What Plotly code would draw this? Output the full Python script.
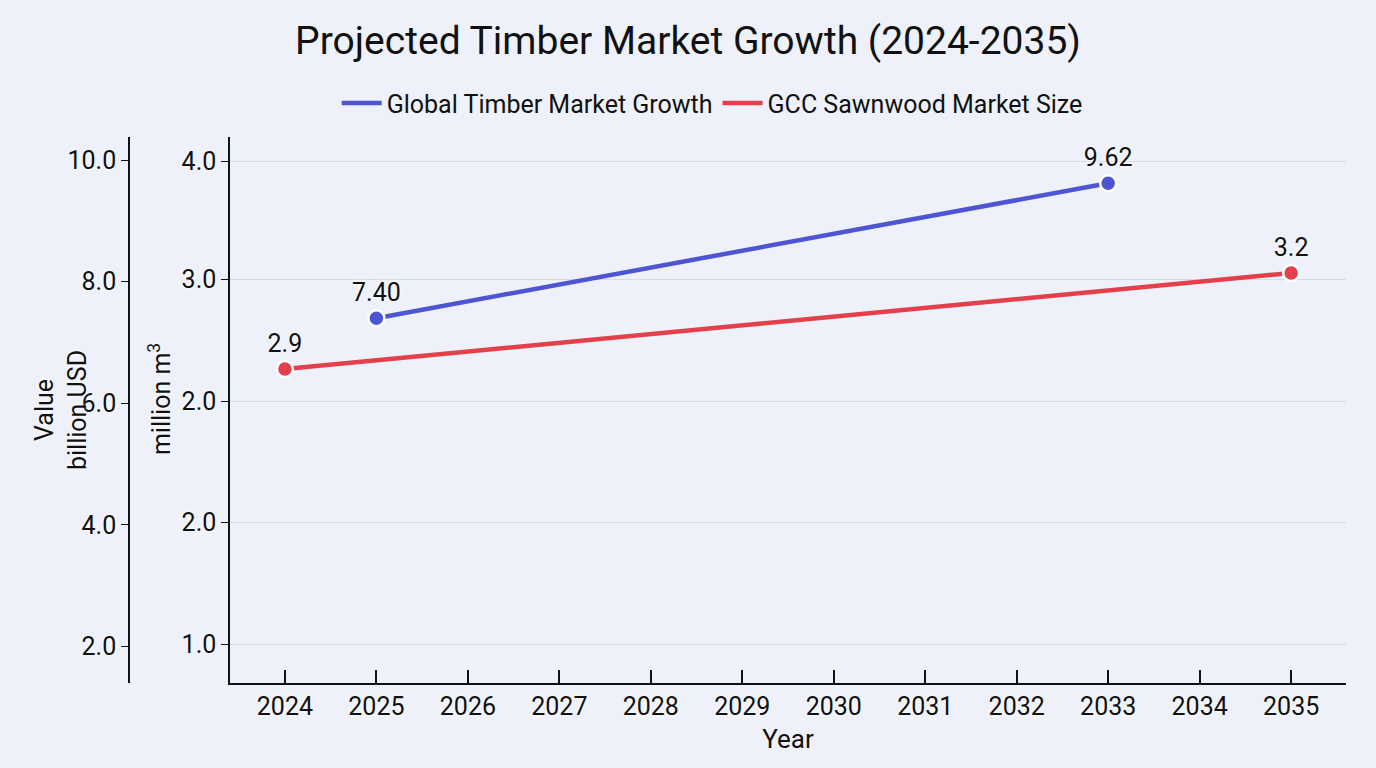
import plotly.graph_objects as go

# data
global_years = [2025, 2033]
global_values = [7.40, 9.62]          # billion USD
gcc_years = [2024, 2035]
gcc_values = [2.9, 3.2]               # million m3

# inner axis labels as printed in the reference
volume_tickvals = [2.04, 2.42, 2.80, 3.18, 3.55]
volume_ticktext = ['1.0', '2.0', '2.0', '3.0', '4.0']

BLUE = '#4f55d2'
RED = '#e3404b'
BG = '#eef1fa'
FONT = 'Roboto'
glow = '0px 0px 4px white'
labelfont = {'size': 25, 'color': '#111', 'family': FONT, 'shadow': glow}

fig = go.Figure()
series = [
    ('Global Timber Market Growth', global_years, global_values, BLUE, '%{y:.2f}', 'y'),
    ('GCC Sawnwood Market Size', gcc_years, gcc_values, RED, '%{y:.1f}', 'y2'),
]
for name, xs, ys, color, fmt, axis in series:
    # line (also the legend entry, line only)
    fig.add_trace(go.Scatter(
        x=xs, y=ys, name=name, legendgroup=name,
        mode='lines',
        line={'color': color, 'width': 4.5},
        yaxis=axis,
    ))
    # markers and value labels
    fig.add_trace(go.Scatter(
        x=xs, y=ys, name=name, legendgroup=name, showlegend=False,
        mode='markers+text',
        marker={'size': 16, 'color': color, 'line': {'color': 'white', 'width': 2.5}},
        texttemplate=fmt,
        textposition='top center',
        textfont=labelfont,
        yaxis=axis,
    ))

fig.update_layout(
    width=1376, height=768,
    paper_bgcolor=BG, plot_bgcolor=BG,
    font={'family': FONT, 'color': '#111'},
    margin={'l': 20, 'r': 30, 't': 137, 'b': 85},
    title={
        'text': 'Projected Timber Market Growth (2024-2035)',
        'x': 0.5, 'xref': 'container', 'xanchor': 'center',
        'y': 1 - 40 / 768, 'yanchor': 'middle',
        'font': {'size': 39, 'family': FONT, 'color': '#111'},
    },
    legend={
        'orientation': 'h',
        'x': 0.522, 'xanchor': 'center',
        'y': 1.062, 'yanchor': 'middle',
        'font': {'size': 25, 'family': FONT, 'color': '#111'},
        'bgcolor': 'rgba(0,0,0,0)',
        'itemwidth': 40,
    },
    showlegend=True,
    xaxis={
        'domain': [0.1584, 1],
        'range': [2023.4, 2035.6],
        'dtick': 1,
        'showgrid': False,
        'showline': True, 'linecolor': '#111', 'linewidth': 1.5,
        'ticks': 'inside', 'ticklen': 13, 'tickcolor': '#111', 'tickwidth': 1.5,
        'tickfont': labelfont,
        'title': {'text': 'Year', 'font': {'size': 26, 'family': FONT}, 'standoff': 10},
        'zeroline': False,
    },
    yaxis={
        'anchor': 'free', 'position': 0.0822, 'side': 'left',
        'range': [1.4, 10.38],
        'dtick': 2, 'tickformat': '.1f',
        'showgrid': False,
        'showline': True, 'linecolor': '#111', 'linewidth': 1.5,
        'ticks': 'outside', 'ticklen': 7, 'tickcolor': '#111',
        'tickfont': labelfont,
        'zeroline': False,
    },
    yaxis2={
        'overlaying': 'y', 'anchor': 'x', 'side': 'left',
        'range': [1.919, 3.625],
        'tickvals': volume_tickvals, 'ticktext': volume_ticktext,
        'showgrid': True, 'gridcolor': '#d9dbe4', 'gridwidth': 1.2,
        'showline': True, 'linecolor': '#111', 'linewidth': 1.5,
        'ticks': 'outside', 'ticklen': 7, 'tickcolor': '#111',
        'tickfont': labelfont,
        'zeroline': False,
    },
    annotations=[
        dict(text='Value<br>billion USD', textangle=-90,
             xref='paper', yref='paper', x=(61 - 20) / 1326, y=0.5,
             xanchor='center', yanchor='middle', showarrow=False,
             font=labelfont),
        dict(text='million m<sup>3</sup>', textangle=-90,
             xref='paper', yref='paper', x=(160 - 20) / 1326, y=0.52,
             xanchor='center', yanchor='middle', showarrow=False,
             font=labelfont),
    ],
)

fig.write_html("out.html", config={'displayModeBar': False},
               post_script="document.body.style.margin='0';")
